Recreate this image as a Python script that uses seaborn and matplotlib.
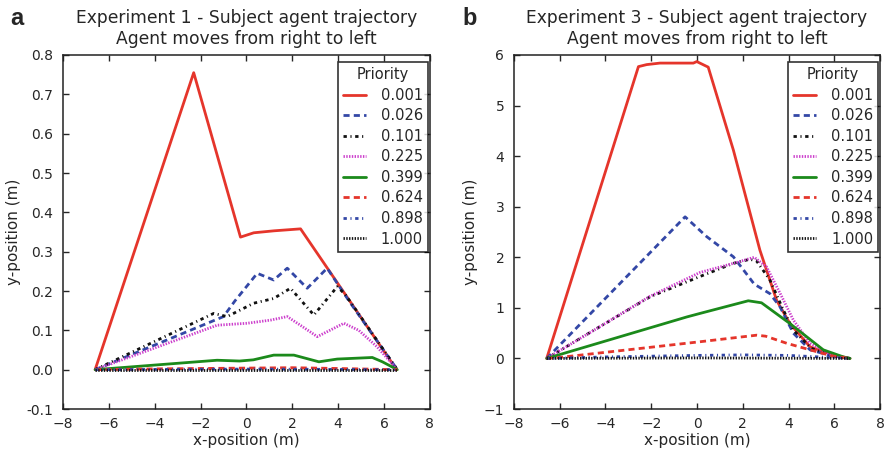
import numpy as np
import pandas as pd
import matplotlib
matplotlib.use("Agg")
import matplotlib.pyplot as plt
import seaborn as sns

priorities = ["0.001", "0.026", "0.101", "0.225", "0.399", "0.624", "0.898", "1.000"]

# ---------------- Panel a (Experiment 1) ----------------
a_x_0001 = [-6.6, -2.3, -0.26, 0.32, 1.2, 2.36, 6.55]
a_y_0001 = [0.0, 0.755, 0.337, 0.348, 0.353, 0.358, 0.0]
a_x_0026 = [-6.6, -1.0, -0.5, 0.47, 1.19, 1.78, 2.65, 3.52, 4.54, 6.58]
a_y_0026 = [0.0, 0.135, 0.175, 0.245, 0.228, 0.258, 0.207, 0.258, 0.169, 0.0]
a_x_0101 = [-6.6, -1.43, -0.84, 0.32, 1.19, 1.92, 2.94, 3.96, 4.3, 6.58]
a_y_0101 = [0.0, 0.143, 0.135, 0.169, 0.181, 0.207, 0.139, 0.211, 0.192, 0.0]
a_x_0225 = [-6.6, -1.28, 0.03, 1.05, 1.78, 2.3, 3.09, 4.25, 4.9, 5.7, 6.58]
a_y_0225 = [0.0, 0.113, 0.118, 0.126, 0.135, 0.115, 0.084, 0.118, 0.100, 0.058, 0.0]
a_x_0399 = [-6.6, -1.28, -0.3, 0.3, 1.19, 2.07, 3.16, 3.96, 5.49, 5.93, 6.58]
a_y_0399 = [0.0, 0.024, 0.022, 0.025, 0.037, 0.037, 0.020, 0.027, 0.031, 0.020, 0.0]
a_x_0624 = [-6.6, -4.0, 0.0, 2.0, 4.0, 6.58]
a_y_0624 = [0.0, 0.002, 0.004, 0.005, 0.003, 0.0]
a_x_0898 = [-6.6, -3.0, 0.0, 3.0, 6.58]
a_y_0898 = [0.0, 0.001, 0.0015, 0.001, 0.0]
a_x_1000 = [-6.6, 0.0, 6.58]
a_y_1000 = [0.0, 0.0, 0.0]

# ---------------- Panel b (Experiment 3) ----------------
b_x_0001 = [-6.57, -2.56, -2.2, -1.62, -0.16, -0.01, 0.49, 1.59, 2.75, 3.48, 4.06, 4.94, 5.95, 6.69]
b_y_0001 = [0.0, 5.77, 5.81, 5.84, 5.84, 5.87, 5.76, 4.12, 2.14, 1.15, 0.69, 0.23, 0.07, 0.0]
b_x_0026 = [-6.57, -0.52, 0.42, 1.59, 2.2, 2.5, 3.19, 3.63, 4.21, 4.94, 5.9, 6.69]
b_y_0026 = [0.0, 2.80, 2.41, 2.01, 1.65, 1.47, 1.28, 1.02, 0.50, 0.17, 0.05, 0.0]
b_x_0101 = [-6.57, -4.24, -2.05, 0.13, 1.59, 2.3, 2.6, 3.19, 3.77, 4.21, 5.0, 5.9, 6.69]
b_y_0101 = [0.0, 0.63, 1.22, 1.62, 1.88, 1.96, 1.93, 1.55, 0.96, 0.56, 0.20, 0.05, 0.0]
b_x_0225 = [-6.57, -4.24, -2.05, 0.13, 1.59, 2.5, 3.04, 3.63, 4.21, 4.94, 5.9, 6.69]
b_y_0225 = [0.0, 0.63, 1.23, 1.70, 1.88, 2.00, 1.81, 1.29, 0.76, 0.30, 0.06, 0.0]
b_x_0399 = [-6.57, -0.45, 0.13, 2.24, 2.82, 4.06, 5.52, 6.4, 6.69]
b_y_0399 = [0.0, 0.82, 0.89, 1.14, 1.10, 0.69, 0.17, 0.03, 0.0]
b_x_0624 = [-6.57, -6.0, 0.13, 2.61, 3.0, 3.92, 4.94, 5.9, 6.69]
b_y_0624 = [0.0, 0.02, 0.33, 0.46, 0.44, 0.30, 0.17, 0.05, 0.0]
b_x_0898 = [-6.57, -4.0, 0.0, 2.0, 4.0, 6.69]
b_y_0898 = [0.0, 0.03, 0.06, 0.07, 0.06, 0.0]
b_x_1000 = [-6.57, 0.0, 6.69]
b_y_1000 = [0.0, 0.01, 0.0]

panel_a = [(a_x_0001, a_y_0001), (a_x_0026, a_y_0026), (a_x_0101, a_y_0101), (a_x_0225, a_y_0225),
           (a_x_0399, a_y_0399), (a_x_0624, a_y_0624), (a_x_0898, a_y_0898), (a_x_1000, a_y_1000)]
panel_b = [(b_x_0001, b_y_0001), (b_x_0026, b_y_0026), (b_x_0101, b_y_0101), (b_x_0225, b_y_0225),
           (b_x_0399, b_y_0399), (b_x_0624, b_y_0624), (b_x_0898, b_y_0898), (b_x_1000, b_y_1000)]


def to_df(series):
    rows = []
    for p, (xs, ys) in zip(priorities, series):
        for i, (x, y) in enumerate(zip(xs, ys)):
            rows.append({"x": x, "y": y, "Priority": p, "order": i})
    return pd.DataFrame(rows)


palette = {"0.001": "#e5352b", "0.026": "#3347a6", "0.101": "#111111", "0.225": "#cc3fcc",
           "0.399": "#1b8a1b", "0.624": "#e5352b", "0.898": "#3347a6", "1.000": "#111111"}
dashes = {"0.001": "", "0.026": (2.2, 1.5), "0.101": (1.2, 1.3, 0.4, 1.3), "0.225": (0.5, 0.5),
          "0.399": "", "0.624": (2.2, 1.5), "0.898": (1.2, 1.3, 0.4, 1.3), "1.000": (0.5, 0.5)}

sns.set_style("ticks")
plt.rcParams["font.family"] = ["DejaVu Sans"]

fig = plt.figure(figsize=(8.9, 4.53), dpi=100)
ax_a = fig.add_axes([0.0708, 0.0971, 0.4122, 0.7815])
ax_b = fig.add_axes([0.5775, 0.0971, 0.4113, 0.7815])

configs = [
    (ax_a, panel_a, "Experiment 1 - Subject agent trajectory\nAgent moves from right to left",
     (-0.1, 0.8), np.arange(-0.1, 0.81, 0.1), "a", 0.012),
    (ax_b, panel_b, "Experiment 3 - Subject agent trajectory\nAgent moves from right to left",
     (-1, 6), np.arange(-1, 7, 1), "b", 0.52),
]

for ax, series, title, ylim, yticks, letter, lx in configs:
    df = to_df(series)
    sns.lineplot(data=df, x="x", y="y", hue="Priority", style="Priority",
                 palette=palette, dashes=dashes, sort=False, estimator=None,
                 linewidth=2.0, ax=ax)
    ax.set_xlim(-8, 8)
    ax.set_ylim(*ylim)
    ax.set_xticks(np.arange(-8, 9, 2))
    ax.set_yticks(yticks)
    if letter == "a":
        ax.set_yticklabels([f"{v:.1f}" for v in yticks])
    ax.set_xlabel("x-position (m)", fontsize=11, labelpad=1)
    ax.set_ylabel("y-position (m)", fontsize=11, labelpad=4)
    ax.set_title(title, fontsize=12.3, pad=8, linespacing=1.2)
    ax.tick_params(direction="in", top=True, right=True, labelsize=10, length=4, width=1)
    ax.tick_params(axis="y", pad=7)
    ax.tick_params(axis="x", pad=6)
    for s in ax.spines.values():
        s.set_linewidth(1.1)
        s.set_color("#222222")
    handles, labels = ax.get_legend_handles_labels()
    leg = ax.legend(handles, labels, title="Priority", loc="upper right",
                    bbox_to_anchor=(0.995, 0.98), borderaxespad=0, fontsize=10.5,
                    title_fontsize=10.5, frameon=True, fancybox=False, handlelength=1.6,
                    handletextpad=1.0, labelspacing=0.38, borderpad=0.35)
    leg.get_frame().set_edgecolor("black")
    leg.get_frame().set_linewidth(1.2)
    fig.text(lx, 0.985, letter, fontsize=17, fontweight="bold", va="top", ha="left",
             family=["Liberation Sans", "DejaVu Sans"])

fig.savefig("out.png", dpi=100)
